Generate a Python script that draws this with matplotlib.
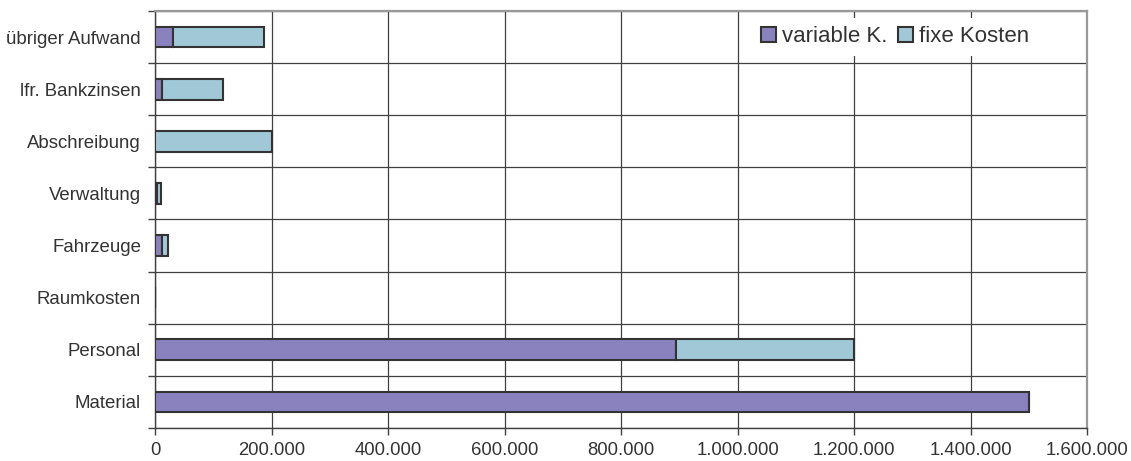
import matplotlib
matplotlib.use("Agg")
import matplotlib.pyplot as plt
import numpy as np
from matplotlib.ticker import FuncFormatter

# Cost categories (bottom to top) and their variable / fixed portions
categories = ["Material", "Personal", "Raumkosten", "Fahrzeuge",
              "Verwaltung", "Abschreibung", "lfr. Bankzinsen", "übriger Aufwand"]
variable_k = [1500000, 895000, 0, 12000, 4000, 0, 11500, 31000]
fixe_kosten = [0, 305000, 0, 11000, 7000, 200000, 105000, 156000]
series_labels = ["variable K.", "fixe Kosten"]
x_ticks = [0, 200000, 400000, 600000, 800000, 1000000, 1200000, 1400000, 1600000]

plt.rcParams["font.family"] = ["Liberation Sans", "DejaVu Sans"]
text_color = "#333333"

fig = plt.figure(figsize=(11.31, 4.61), dpi=100)
ax = fig.add_axes([155 / 1131, 1 - 428 / 461, (1087 - 155) / 1131, (428 - 11) / 461])

y = np.arange(len(categories))
edge = "#333333"
ax.barh(y, variable_k, height=0.4, color="#8982BE", edgecolor=edge,
        linewidth=1.5, label=series_labels[0], zorder=3)
ax.barh(y, fixe_kosten, left=variable_k, height=0.4, color="#A0C8D6",
        edgecolor=edge, linewidth=1.5, label=series_labels[1], zorder=3)

ax.set_xlim(0, 1600000)
ax.set_ylim(-0.5, len(categories) - 0.5)

def de_thousands(v, pos):
    return f"{int(round(v)):,}".replace(",", ".")

ax.set_xticks(x_ticks)
ax.xaxis.set_major_formatter(FuncFormatter(de_thousands))
ax.set_yticks(y)
ax.set_yticklabels(categories)
ax.set_yticks(np.arange(-0.5, len(categories)), minor=True)

ax.tick_params(axis="x", which="major", length=5, width=1, color="#404040",
               labelsize=13.3, labelcolor=text_color, pad=5)
ax.tick_params(axis="y", which="major", length=0, labelsize=13.4,
               labelcolor=text_color, pad=10)
ax.tick_params(axis="y", which="minor", length=5, width=1, color="#404040")

ax.grid(axis="x", which="major", color="#404040", linewidth=0.9, zorder=0)
ax.grid(axis="y", which="minor", color="#404040", linewidth=0.9, zorder=0)
ax.set_axisbelow(True)

for side in ("left", "bottom"):
    ax.spines[side].set_color("#404040")
    ax.spines[side].set_linewidth(1)
for side in ("top", "right"):
    ax.spines[side].set_color("#999999")
    ax.spines[side].set_linewidth(1.6)

leg = ax.legend(loc="center", bbox_to_anchor=((895 - 155) / 932, 1 - (37 - 11) / 417),
                ncol=2, frameon=True, fancybox=False, framealpha=1,
                facecolor="white", edgecolor="none", fontsize=16,
                handlelength=0.68, handleheight=0.68, handletextpad=0.25,
                columnspacing=0.5, borderpad=0.4)
for t in leg.get_texts():
    t.set_color(text_color)
leg.set_zorder(5)

fig.savefig("out.png", dpi=100)
